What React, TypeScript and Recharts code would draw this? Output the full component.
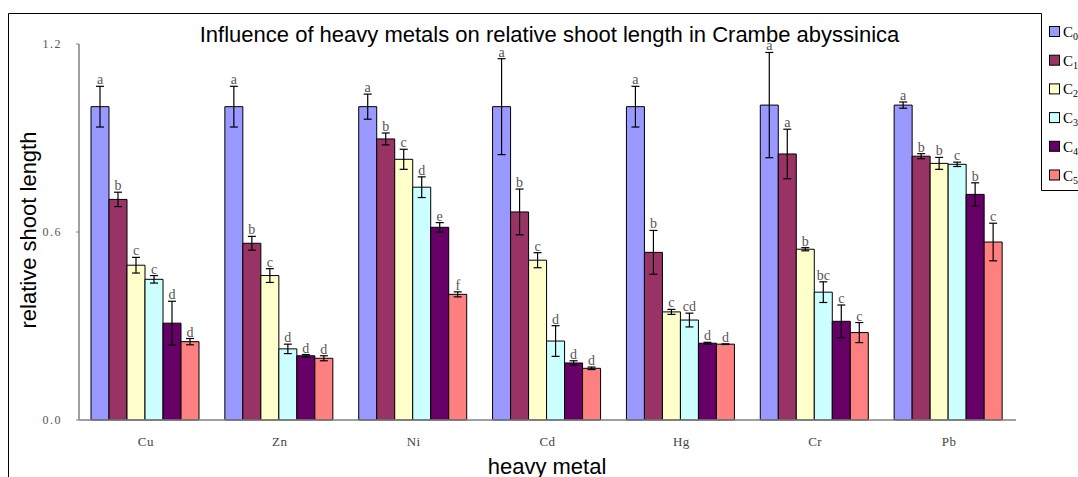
import { BarChart, Bar, XAxis, YAxis, ErrorBar, LabelList } from 'recharts';

const metals = ['Cu', 'Zn', 'Ni', 'Cd', 'Hg', 'Cr', 'Pb'];
const yTicks = [0, 0.6, 1.2];

// mean relative shoot length per treatment
const c0 = [1.0, 1.0, 1.0, 1.0, 1.0, 1.005, 1.005];
const c1 = [0.704, 0.564, 0.897, 0.664, 0.535, 0.849, 0.842];
const c2 = [0.494, 0.461, 0.832, 0.51, 0.345, 0.545, 0.819];
const c3 = [0.449, 0.227, 0.743, 0.252, 0.319, 0.408, 0.816];
const c4 = [0.309, 0.205, 0.615, 0.182, 0.245, 0.315, 0.72];
const c5 = [0.25, 0.197, 0.401, 0.165, 0.242, 0.279, 0.568];

// standard errors
const c0Err = [0.065, 0.065, 0.04, 0.153, 0.065, 0.168, 0.01];
const c1Err = [0.023, 0.022, 0.019, 0.073, 0.07, 0.079, 0.008];
const c2Err = [0.025, 0.022, 0.032, 0.024, 0.008, 0.005, 0.019];
const c3Err = [0.012, 0.015, 0.033, 0.049, 0.022, 0.033, 0.007];
const c4Err = [0.07, 0.004, 0.015, 0.007, 0.003, 0.052, 0.037];
const c5Err = [0.01, 0.008, 0.008, 0.004, 0.001, 0.032, 0.06];

// significance letters
const c0Sig = ['a', 'a', 'a', 'a', 'a', 'a', 'a'];
const c1Sig = ['b', 'b', 'b', 'b', 'b', 'a', 'b'];
const c2Sig = ['c', 'c', 'c', 'c', 'c', 'b', 'b'];
const c3Sig = ['c', 'd', 'd', 'd', 'cd', 'bc', 'c'];
const c4Sig = ['d', 'd', 'e', 'd', 'd', 'c', 'b'];
const c5Sig = ['d', 'd', 'f', 'd', 'd', 'c', 'c'];

const series = [
  { key: 'c0', label: '0', color: '#9999FF', vals: c0, errs: c0Err, sig: c0Sig },
  { key: 'c1', label: '1', color: '#993366', vals: c1, errs: c1Err, sig: c1Sig },
  { key: 'c2', label: '2', color: '#FFFFCC', vals: c2, errs: c2Err, sig: c2Sig },
  { key: 'c3', label: '3', color: '#CCFFFF', vals: c3, errs: c3Err, sig: c3Sig },
  { key: 'c4', label: '4', color: '#660066', vals: c4, errs: c4Err, sig: c4Sig },
  { key: 'c5', label: '5', color: '#FF8080', vals: c5, errs: c5Err, sig: c5Sig },
];

const data = metals.map((name, i) => {
  const row: Record<string, string | number> = { name };
  series.forEach((s) => {
    row[s.key] = s.vals[i];
    row[s.key + 'Err'] = s.errs[i];
    row[s.key + 'Sig'] = s.sig[i];
  });
  return row;
});

const makeSigLabel = (vals: number[], errs: number[]) => (props: any) => {
  const { x, y, width, height, value, index } = props;
  const pxPerUnit = Number(height) / vals[index];
  const top = Number(y) - errs[index] * pxPerUnit;
  return (
    <text
      x={Number(x) + Number(width) / 2}
      y={top - 2}
      textAnchor="middle"
      fontFamily="'Liberation Serif', serif"
      fontSize={14}
      fill="#555"
    >
      {value}
    </text>
  );
};

export default function App() {
  return (
    <div style={{ position: 'absolute', left: 0, top: 0, width: 1078, height: 477, background: '#fff' }}>
      <BarChart
        width={1078}
        height={477}
        data={data}
        margin={{ top: 44, right: 62, bottom: 27, left: 39 }}
        barCategoryGap={12}
        barGap={0}
      >
        <XAxis
          dataKey="name"
          height={30}
          tickLine={false}
          tickSize={0}
          tickMargin={17}
          axisLine={{ stroke: '#808080', strokeWidth: 1.5 }}
          tick={{ fontFamily: "'Liberation Serif', serif", fontSize: 13, fill: '#444', letterSpacing: 0.5 }}
        />
        <YAxis
          width={40}
          domain={[0, 1.2]}
          ticks={yTicks}
          tickFormatter={(v: number) => v.toFixed(1)}
          tickSize={3}
          tickMargin={14}
          axisLine={{ stroke: '#808080', strokeWidth: 1.5 }}
          tickLine={{ stroke: '#808080' }}
          tick={{ fontFamily: "'Liberation Serif', serif", fontSize: 12, fill: '#555', letterSpacing: 1.5 }}
        />
        {series.map((s) => (
          <Bar key={s.key} dataKey={s.key} fill={s.color} stroke="#000" strokeWidth={1} isAnimationActive={false}>
            <ErrorBar dataKey={s.key + 'Err'} width={4} stroke="#000" strokeWidth={1.2} direction="y" />
            <LabelList dataKey={s.key + 'Sig'} content={makeSigLabel(s.vals, s.errs)} />
          </Bar>
        ))}

        <text x={549.5} y={42} textAnchor="middle" fontFamily="'Liberation Sans', Arial, sans-serif" fontSize={22} fill="#000">
          Influence of heavy metals on relative shoot length in Crambe abyssinica
        </text>
        <text x={547} y={474} textAnchor="middle" fontFamily="'Liberation Sans', Arial, sans-serif" fontSize={22} fill="#000">
          heavy metal
        </text>
        <text
          x={36}
          y={230}
          textAnchor="middle"
          transform="rotate(-90 36 230)"
          fontFamily="'Liberation Sans', Arial, sans-serif"
          fontSize={22}
          fill="#000"
        >
          relative shoot length
        </text>

        <line x1={8.5} y1={13.5} x2={1041.5} y2={13.5} stroke="#000" strokeWidth={1} />
        <line x1={8.5} y1={13.5} x2={8.5} y2={477} stroke="#000" strokeWidth={1} />
        <line x1={1041.5} y1={13.5} x2={1041.5} y2={190.5} stroke="#000" strokeWidth={1} />
        <line x1={1041.5} y1={190.5} x2={1078} y2={190.5} stroke="#000" strokeWidth={1} />
        {series.map((s, i) => (
          <g key={'lg' + s.key}>
            <rect x={1049.5} y={26.5 + i * 28.7} width={10} height={10} fill={s.color} stroke="#000" strokeWidth={1} />
            <text x={1063} y={37 + i * 28.7} fontFamily="'Liberation Serif', serif" fontSize={15} fill="#000">
              C<tspan fontSize={10} dy={3}>{s.label}</tspan>
            </text>
          </g>
        ))}
      </BarChart>
    </div>
  );
}
